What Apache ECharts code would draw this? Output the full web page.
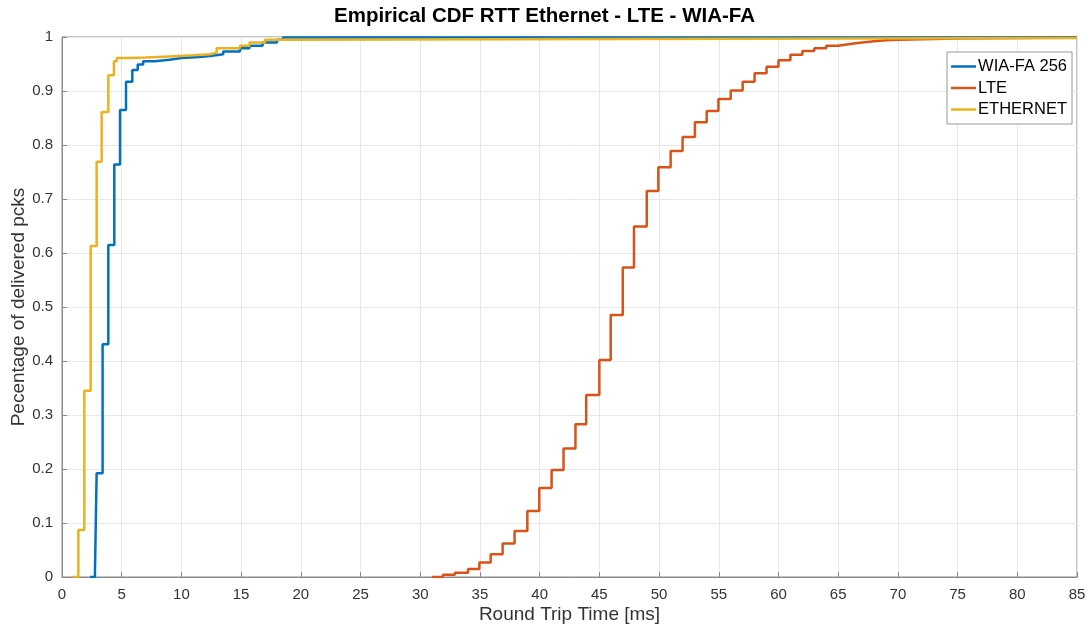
<!DOCTYPE html>
<html>
<head>
<meta charset="utf-8">
<script src="https://cdn.jsdelivr.net/npm/echarts@6/dist/echarts.min.js"></script>
<style>html,body{margin:0;padding:0;background:#fff;}#c{width:1089px;height:630px;}</style>
</head>
<body>
<div id="c"></div>
<script>
const titleText = 'Empirical CDF RTT Ethernet - LTE - WIA-FA';
const xAxisName = 'Round Trip Time [ms]';
const yAxisName = 'Pecentage of delivered pcks';
const seriesNames = ['WIA-FA 256', 'LTE', 'ETHERNET'];
const seriesColors = ['#0072BD', '#D95319', '#EDB120'];

const wiaX = [2.35, 2.76, 2.9, 3.4, 3.88, 4.38, 4.86, 5.36, 5.89, 6.34, 6.8, 7.8, 9, 10, 11.5, 12.4, 13.5, 14.9, 15.7, 16.8, 18, 18.5, 85];
const wiaY = [0, 0.01, 0.192, 0.431, 0.615, 0.764, 0.865, 0.917, 0.939, 0.949, 0.955, 0.958, 0.961, 0.963, 0.965, 0.968, 0.973, 0.979, 0.984, 0.99, 0.995, 0.999, 1];

const lteX = [31.0, 31.9, 32.9, 34.0, 34.95, 35.9, 36.9, 37.9, 38.97, 39.97, 41.0, 42.0, 43.0, 43.9, 45.0, 45.95, 46.96, 47.9, 48.97, 49.94, 50.97, 51.97, 53.0, 53.99, 54.97, 56.0, 57.0, 58.0, 59.0, 60.0, 61.0, 62.0, 63.0, 64.0, 65.0, 66, 67, 68, 69, 70, 72, 75, 80, 85];
const lteY = [0, 0.004, 0.008, 0.015, 0.027, 0.042, 0.062, 0.085, 0.122, 0.165, 0.198, 0.238, 0.283, 0.337, 0.402, 0.485, 0.573, 0.649, 0.715, 0.759, 0.789, 0.815, 0.842, 0.863, 0.885, 0.901, 0.917, 0.933, 0.945, 0.957, 0.967, 0.974, 0.979, 0.984, 0.987, 0.99, 0.992, 0.994, 0.995, 0.996, 0.997, 0.998, 0.999, 0.999];

const ethX = [0.92, 1.37, 1.87, 2.4, 2.9, 3.32, 3.88, 4.35, 4.58, 5.5, 7, 9, 11, 12.4, 12.95, 14.9, 15.7, 17, 18, 85];
const ethY = [0, 0.087, 0.345, 0.613, 0.769, 0.861, 0.929, 0.955, 0.961, 0.962, 0.964, 0.966, 0.968, 0.971, 0.979, 0.984, 0.99, 0.995, 0.998, 0.999];

const xTicks = [0, 85, 5];
const yTicks = [0, 1, 0.1];

function pairs(xs, ys) { return xs.map((x, i) => [x, ys[i]]); }

const font = 'Liberation Sans, Arial, Helvetica, sans-serif';
const chart = echarts.init(document.getElementById('c'), null, {renderer: 'canvas'});
const mk = (name, xs, ys, color, z) => ({
  name: name, type: 'line', step: 'end', data: pairs(xs, ys),
  showSymbol: false, symbol: 'none', z: z,
  lineStyle: {color: color, width: 2.5}, itemStyle: {color: color},
  animation: false
});
chart.setOption({
  animation: false,
  backgroundColor: '#fff',
  title: {
    text: titleText, left: 'center', top: 1,
    textStyle: {fontFamily: font, fontSize: 20.5, fontWeight: 'bold', color: '#000'}
  },
  legend: {
    orient: 'vertical', right: 17, top: 52,
    data: seriesNames.map(n => ({name: n, icon: 'rect'})),
    backgroundColor: '#fff', borderColor: '#999', borderWidth: 1, borderRadius: 0,
    padding: [5, 5, 5, 4], itemGap: 2.5, itemWidth: 25, itemHeight: 2.5,
    textStyle: {fontFamily: font, fontSize: 16.5, lineHeight: 19, color: '#000', padding: [0, 0, 0, -3]}
  },
  grid: {left: 62, right: 12, top: 37, bottom: 53, show: true, borderColor: '#8a8a8a', borderWidth: 1,
    containLabel: false, outerBoundsMode: 'none'},
  xAxis: {
    type: 'value', min: xTicks[0], max: xTicks[1], interval: xTicks[2],
    name: xAxisName, nameLocation: 'middle', nameGap: 28, nameMoveOverlap: false,
    nameTextStyle: {fontFamily: font, fontSize: 19, color: '#333'},
    axisLine: {show: true, lineStyle: {color: '#8a8a8a'}},
    axisTick: {show: true, inside: true, length: 5, lineStyle: {color: '#8a8a8a'}},
    axisLabel: {fontFamily: font, fontSize: 15, color: '#333', margin: 10},
    splitLine: {show: true, lineStyle: {color: '#e8e8e8', width: 1}}
  },
  yAxis: {
    type: 'value', min: yTicks[0], max: yTicks[1], interval: yTicks[2],
    name: yAxisName, nameLocation: 'middle', nameGap: 34, nameMoveOverlap: false,
    nameTextStyle: {fontFamily: font, fontSize: 19, color: '#333'},
    axisLine: {show: true, lineStyle: {color: '#8a8a8a'}},
    axisTick: {show: true, inside: true, length: 5, lineStyle: {color: '#8a8a8a'}},
    axisLabel: {fontFamily: font, fontSize: 15, color: '#333', margin: 9,
      formatter: v => (Math.round(v * 10) / 10).toString()},
    splitLine: {show: true, lineStyle: {color: '#e8e8e8', width: 1}}
  },
  series: [
    mk(seriesNames[0], wiaX, wiaY, seriesColors[0], 3),
    mk(seriesNames[1], lteX, lteY, seriesColors[1], 2),
    mk(seriesNames[2], ethX, ethY, seriesColors[2], 4)
  ]
});
</script>
</body>
</html>
